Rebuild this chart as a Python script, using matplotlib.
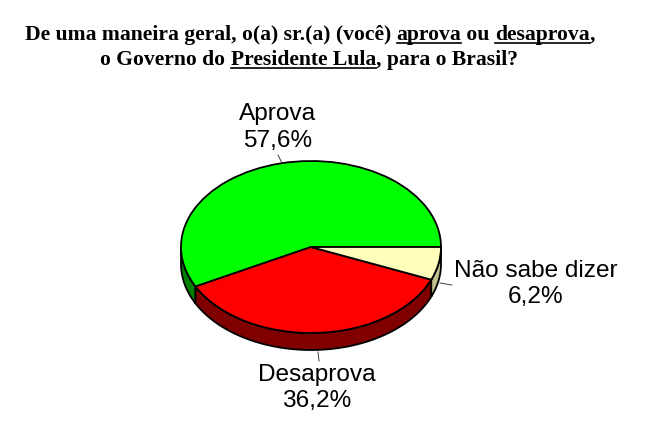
import numpy as np
from matplotlib import pyplot as plt

# survey results
categories = ['Aprova', 'Desaprova', 'Não sabe dizer']
values = [57.6, 36.2, 6.2]
value_labels = ['57,6%', '36,2%', '6,2%']
top_colors = ['#00ff00', '#ff0000', '#ffffbb']
side_colors = ['#008000', '#800000', '#bfbf8c']

title_line1 = [('De uma maneira geral, o(a) sr.(a) (você) ', False), ('aprova', True),
               (' ou ', False), ('desaprova', True), (',', False)]
title_line2 = [('o Governo do ', False), ('Presidente Lula', True), (', para o Brasil?', False)]

W, H = 655, 421
fig = plt.figure(figsize=(W / 100, H / 100), dpi=100)

# background axes in pixel coordinates for text and leader lines
bg = fig.add_axes([0, 0, 1, 1])
bg.set_xlim(0, W)
bg.set_ylim(H, 0)
bg.axis('off')

# pie axes: a unit circle squashed into the ellipse
cx, cy, rx, ry, depth = 311, 247, 130, 86, 17
d = depth / ry
ax = fig.add_axes([(cx - rx) / W, (H - cy - ry - depth) / H, 2 * rx / W, (2 * ry + depth) / H])

wedges, _ = ax.pie(values, colors=top_colors, startangle=0, radius=1,
                   wedgeprops={'edgecolor': 'black', 'linewidth': 1.3, 'zorder': 3})
ax.set_aspect('auto')
ax.set_xlim(-1, 1)
ax.set_ylim(-1 - d, 1)
ax.axis('off')

# side walls, only the front half of the disc shows
edges = np.cumsum([0] + values) / 100 * 360
for a0, a1, c in zip(edges[:-1], edges[1:], side_colors):
    a0, a1 = max(a0, 180), min(a1, 360)
    if a1 <= a0:
        continue
    t = np.radians(np.linspace(a0, a1, 80))
    xs = np.r_[np.cos(t), np.cos(t[::-1])]
    ys = np.r_[np.sin(t), np.sin(t[::-1]) - d]
    ax.fill(xs, ys, facecolor=c, edgecolor='black', linewidth=1.3, zorder=2, clip_on=False)
for w in wedges:
    w.set_clip_on(False)

# slice labels, each line placed on its own
label_font = {'family': 'Liberation Sans', 'fontsize': 17.6, 'color': 'black',
              'ha': 'center', 'va': 'center'}
bg.text(278, 114, categories[0], **label_font)
bg.text(278, 141, value_labels[0], **label_font)
bg.text(317, 375, categories[1], **label_font)
bg.text(317, 401, value_labels[1], **label_font)
bg.text(536, 271, categories[2], **label_font)
bg.text(536, 297, value_labels[2], **label_font)

# leader lines
bg.plot([278, 282], [155, 163], color='#404040', lw=0.7)
bg.plot([318, 319], [352, 361], color='#404040', lw=0.7)
bg.plot([440, 452], [283, 285], color='#404040', lw=0.7)


def draw_runs(runs, center, base):
    # text in pieces so that some words can be underlined
    renderer = fig.canvas.get_renderer()
    font = {'family': 'Liberation Serif', 'weight': 'bold', 'fontsize': 15.6, 'color': 'black'}
    widths = []
    for s, _ in runs:
        # trailing spaces are measured with a guard character
        a = bg.text(0, 0, s + '|', **font)
        b = bg.text(0, 0, '|', **font)
        widths.append(a.get_window_extent(renderer).width - b.get_window_extent(renderer).width)
        a.remove()
        b.remove()
    x = center - sum(widths) / 2
    for (s, under), w in zip(runs, widths):
        bg.text(x, base, s, va='baseline', ha='left', **font)
        if under:
            bg.plot([x, x + w], [base + 3, base + 3], color='black', lw=1.2)
        x += w


draw_runs(title_line1, 310, 40)
draw_runs(title_line2, 309, 65)

fig.savefig('out.png', dpi=100)
